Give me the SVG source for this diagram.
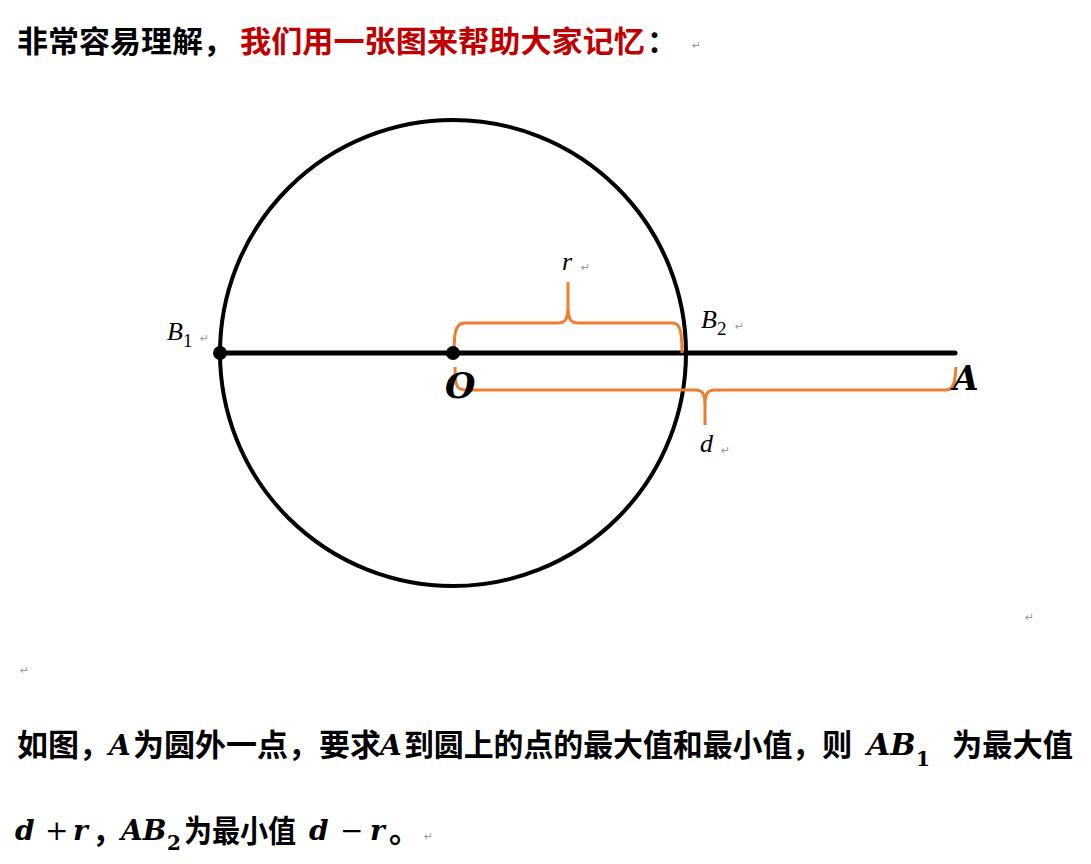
<svg xmlns="http://www.w3.org/2000/svg" width="1091" height="864" viewBox="0 0 1091 864">
<style>
.cjk{font-family:"Noto Sans CJK SC","Liberation Sans",sans-serif;font-weight:bold;fill:#000}
.red{fill:#C00000}
.m{font-family:"Liberation Serif",serif;font-style:italic;fill:#000}
.mu{font-family:"Liberation Serif",serif;font-style:normal;fill:#000}
.mb{font-family:"DejaVu Serif","Liberation Serif",serif;font-style:italic;font-weight:bold;fill:#000}
.mbu{font-family:"DejaVu Serif","Liberation Serif",serif;font-style:normal;font-weight:bold;fill:#000}
.op{font-family:"DejaVu Serif","Liberation Serif",serif;font-style:normal;font-weight:normal;fill:#000}
.ret{font-family:"DejaVu Sans",sans-serif;font-size:11px;fill:#999}
.br{fill:none;stroke:#ED7D31;stroke-width:3;stroke-linecap:butt;stroke-linejoin:round}
</style>
<rect width="1091" height="864" fill="#fff"/>
<g id="title">
<text class="cjk" x="17" y="52" font-size="30" textLength="217" lengthAdjust="spacingAndGlyphs">非常容易理解，</text>
<text class="cjk red" x="240" y="52" font-size="30" textLength="405" lengthAdjust="spacingAndGlyphs">我们用一张图来帮助大家记忆</text>
<text class="cjk" x="647" y="52" font-size="30">：</text>
<text class="ret" x="692" y="49">↵</text>
</g>
<g id="circle">
<circle cx="453" cy="353" r="233" fill="none" stroke="#000" stroke-width="4"/>
</g>
<g id="connectors">
<line x1="220" y1="353" x2="955" y2="353" stroke="#000" stroke-width="5" stroke-linecap="round"/>
<path class="br" d="M454,356 C454,333 455,323 465,323 L558,323 C565,323 568,320 568,305 L568,282 M568,305 C568,320 571,323 578,323 L672,323 C680,323 682,330 682,353"/>
<path class="br" d="M455,367 C455,385 456,390 466,390 L695,390 C702,390 705,393 705,405 L705,425 M705,405 C705,393 708,390 715,390 L945,390 C953,390 955,385 956,367"/>
</g>
<g id="B1">
<circle cx="220" cy="353" r="7" fill="#000"/>
<text class="m" x="167" y="340" font-size="26">B</text>
<text class="mu" x="183" y="347" font-size="19">1</text>
<text class="ret" x="200" y="342">↵</text>
</g>
<g id="O">
<circle cx="453" cy="353" r="7" fill="#000"/>
<text class="mb" x="445" y="398" font-size="35" fill="#1a1a2a">O</text>
</g>
<g id="B2">
<text class="m" x="701" y="328" font-size="26">B</text>
<text class="mu" x="717" y="335" font-size="19">2</text>
<text class="ret" x="735" y="330">↵</text>
</g>
<g id="A">
<text class="mb" x="953" y="390" font-size="33">A</text>
</g>
<g id="r">
<text class="m" x="562" y="270" font-size="26">r</text>
<text class="ret" x="581" y="271">↵</text>
</g>
<g id="d">
<text class="m" x="700" y="452" font-size="26">d</text>
<text class="ret" x="721" y="454">↵</text>
</g>
<g id="marks">
<text class="ret" x="1025" y="621">↵</text>
<text class="ret" x="20" y="674">↵</text>
</g>
<g id="body">
<text class="cjk" x="17" y="756" font-size="31" textLength="93" lengthAdjust="spacingAndGlyphs">如图，</text>
<text class="mb" x="109" y="755" font-size="28">A</text>
<text class="cjk" x="133" y="756" font-size="31" textLength="248" lengthAdjust="spacingAndGlyphs">为圆外一点，要求</text>
<text class="mb" x="380" y="755" font-size="28">A</text>
<text class="cjk" x="404" y="756" font-size="31" textLength="448" lengthAdjust="spacingAndGlyphs">到圆上的点的最大值和最小值，则</text>
<text class="mb" x="867" y="755" font-size="30">AB</text>
<text class="mbu" x="916" y="766" font-size="20">1</text>
<text class="cjk" x="952" y="756" font-size="31" textLength="121" lengthAdjust="spacingAndGlyphs">为最大值</text>

<text class="mb" x="15" y="840" font-size="28">d</text>
<text class="op" x="45" y="840" font-size="28">+</text>
<text class="mb" x="73" y="840" font-size="28">r</text>
<text class="cjk" x="92" y="842" font-size="31">，</text>
<text class="mb" x="121" y="840" font-size="28">AB</text>
<text class="mbu" x="167" y="850" font-size="20">2</text>
<text class="cjk" x="184" y="842" font-size="31" textLength="112" lengthAdjust="spacingAndGlyphs">为最小值</text>
<text class="mb" x="309" y="840" font-size="28">d</text>
<text class="op" x="340" y="840" font-size="28">−</text>
<text class="mb" x="370" y="840" font-size="28">r</text>
<text class="cjk" x="389" y="842" font-size="31">。</text>
<text class="ret" x="424" y="840">↵</text>
</g>
</svg>
